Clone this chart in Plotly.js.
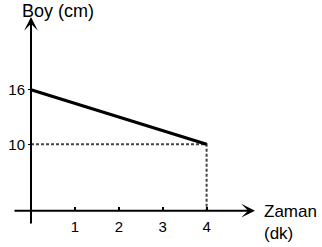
<!DOCTYPE html>
<html>
<head>
<meta charset="utf-8">
<script src="https://cdn.plot.ly/plotly-3.0.1.min.js"></script>
<style>html,body{margin:0;padding:0;background:#fff;}#chart{width:322px;height:247px;}</style>
</head>
<body>
<div id="chart"></div>
<script>
// Data
const times = [0, 4];          // Zaman (dk)
const heights = [16, 10];      // Boy (cm)
const xTickVals = [1, 2, 3, 4];
const yTickVals = [10, 16];
const xTitleLines = ["Zaman", "(dk)"];
const yTitle = "Boy (cm)";

// Layout choices (schematic axes crossing)
const W = 322, H = 247;
const xPx0 = 31, xPxPerUnit = 43.9;
const yPx0 = 235.3, yPxPerUnit = 9.1;
const xRange = [-xPx0 / xPxPerUnit, (W - xPx0) / xPxPerUnit];
const yRange = [(yPx0 - H) / yPxPerUnit, yPx0 / yPxPerUnit];
const toX = px => (px - xPx0) / xPxPerUnit;
const toY = py => (yPx0 - py) / yPxPerUnit;
const crossY = toY(210.7);   // where the x axis is drawn
const font = "Liberation Sans, Arial, Helvetica, sans-serif";

const last = times.length - 1;
const traces = [
  {
    x: [times[0], times[last], times[last]],
    y: [heights[last], heights[last], crossY],
    mode: "lines",
    line: {color: "#444", width: 2, dash: "3px,2px"},
    hoverinfo: "skip"
  },
  {
    x: times, y: heights,
    mode: "lines",
    line: {color: "#000", width: 3},
    hoverinfo: "skip"
  }
];

const layout = {
  width: W, height: H,
  margin: {l: 0, r: 0, t: 0, b: 0, pad: 0},
  paper_bgcolor: "#fff", plot_bgcolor: "rgba(0,0,0,0)",
  showlegend: false,
  font: {family: font, color: "#000", size: 15},
  xaxis: {
    range: xRange, anchor: "free", position: (H - 210.7) / H,
    showgrid: false, zeroline: false, showline: false,
    tickmode: "array", tickvals: xTickVals, ticktext: xTickVals.map(String),
    ticks: "inside", ticklen: 4, tickwidth: 2, tickcolor: "#000",
    ticklabelstandoff: 5,
    tickfont: {family: font, size: 15, color: "#000"},
    fixedrange: true
  },
  yaxis: {
    range: yRange, anchor: "free", position: xPx0 / W,
    showgrid: false, zeroline: false, showline: false,
    tickmode: "array", tickvals: yTickVals, ticktext: yTickVals.map(String),
    ticks: "outside", ticklen: 3, tickwidth: 1.5, tickcolor: "#000",
    ticklabelstandoff: 0,
    tickfont: {family: font, size: 15, color: "#000"},
    fixedrange: true
  },
  annotations: [
    // x axis with arrow
    {x: toX(255), y: crossY, ax: toX(13), ay: crossY, xref: "x", yref: "y", axref: "x", ayref: "y",
     text: "", showarrow: true, arrowhead: 3, arrowsize: 1.15, arrowwidth: 2, arrowcolor: "#000", standoff: 0},
    // y axis with arrow
    {x: 0, y: toY(17), ax: 0, ay: toY(225), xref: "x", yref: "y", axref: "x", ayref: "y",
     text: "", showarrow: true, arrowhead: 3, arrowsize: 1.15, arrowwidth: 2, arrowcolor: "#000", standoff: 0},
    {x: 20 / W, y: 1 - 11 / H, xref: "paper", yref: "paper", xanchor: "left", yanchor: "middle",
     text: yTitle, showarrow: false, font: {family: font, size: 18, color: "#000"}},
    {x: 263 / W, y: 1 - 222.5 / H, xref: "paper", yref: "paper", xanchor: "left", yanchor: "middle",
     align: "left", borderpad: 0,
     text: xTitleLines.join("<br>"), showarrow: false, font: {family: font, size: 17, color: "#000"}}
  ]
};

Plotly.newPlot("chart", traces, layout, {displayModeBar: false, staticPlot: true});
</script>
</body>
</html>
